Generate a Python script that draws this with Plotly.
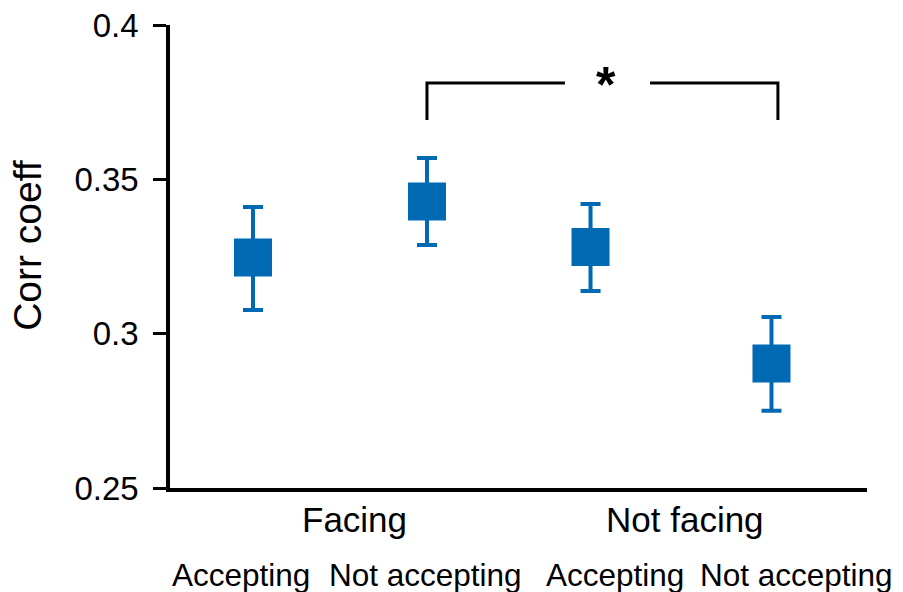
import plotly.graph_objects as go

# ---- data ----
groups = ["Facing", "Not facing"]
conditions = ["Accepting", "Not accepting", "Accepting", "Not accepting"]
x_pos = [1.0, 2.0, 2.94, 3.98]
means = [0.3247, 0.3428, 0.3281, 0.2903]
upper = [0.3410, 0.3569, 0.3420, 0.3054]
lower = [0.3077, 0.3287, 0.3138, 0.2750]
y_ticks = [0.25, 0.3, 0.35, 0.4]
y_tick_text = ["0.25", "0.3", "0.35", "0.4"]
group_label_x = [1.583, 3.483]
cond_label_x = [0.931, 1.989, 3.08, 4.126]
bracket_x = [2.0, 4.017]
bracket_y = [0.3692, 0.3812]
bracket_gap = [2.793, 3.282]
sig_label = "*"

err_plus = [u - m for u, m in zip(upper, means)]
err_minus = [m - l for m, l in zip(means, lower)]

BLUE = "#0069b4"
FONT = "Liberation Sans, Arial, sans-serif"

fig = go.Figure()
fig.add_trace(go.Scatter(
    x=x_pos, y=means, mode="markers",
    marker=dict(symbol="square", size=38, color=BLUE, line=dict(width=0)),
    error_y=dict(type="data", symmetric=False, array=err_plus, arrayminus=err_minus,
                 color=BLUE, thickness=4, width=10),
    showlegend=False, hoverinfo="skip",
))

# significance bracket
bx0, bx1 = bracket_x
by0, by1 = bracket_y
g0, g1 = bracket_gap
fig.add_trace(go.Scatter(x=[bx0, bx0, g0], y=[by0, by1, by1], mode="lines",
                         line=dict(color="black", width=3), showlegend=False, hoverinfo="skip"))
fig.add_trace(go.Scatter(x=[g1, bx1, bx1], y=[by1, by1, by0], mode="lines",
                         line=dict(color="black", width=3), showlegend=False, hoverinfo="skip"))

annotations = []
annotations.append(dict(x=(g0 + g1) / 2 - 0.01, y=by1, xref="x", yref="y", text="<b>" + sig_label + "</b>",
                        showarrow=False, font=dict(family=FONT, size=50, color="black"),
                        yanchor="middle", xanchor="center", yshift=-2))
for gx, g in zip(group_label_x, groups):
    annotations.append(dict(x=gx, y=-0.068, xref="x", yref="paper", text=g, showarrow=False,
                            font=dict(family=FONT, size=35, color="black"),
                            xanchor="center", yanchor="middle"))
for cx, c in zip(cond_label_x, conditions):
    annotations.append(dict(x=cx, y=-0.188, xref="x", yref="paper", text=c, showarrow=False,
                            font=dict(family=FONT, size=31.5, color="black"),
                            xanchor="center", yanchor="middle"))
annotations.append(dict(x=-0.2037, y=0.523, xref="paper", yref="paper", text="Corr coeff",
                        showarrow=False, textangle=-90, xanchor="center", yanchor="middle",
                        font=dict(family=FONT, size=39, color="black")))

fig.update_layout(
    width=903, height=592,
    margin=dict(l=170, r=36, t=25, b=104),
    paper_bgcolor="white", plot_bgcolor="white",
    annotations=annotations,
    xaxis=dict(range=[0.523, 4.529], showgrid=False, zeroline=False, showticklabels=False,
               ticks="", showline=True, linecolor="black", linewidth=3.5, automargin=False),
    yaxis=dict(range=[0.25, 0.4], tickvals=y_ticks, ticktext=y_tick_text, showgrid=False,
               zeroline=False, ticks="outside", ticklen=13, tickwidth=3, tickcolor="black",
               showline=True, linecolor="black", linewidth=3.5, automargin=False,
               ticklabelstandoff=8,
               tickfont=dict(family=FONT, size=33, color="black")),
)

fig.write_html("out.html", config={"displayModeBar": False},
               post_script="document.body.style.margin='0';")
